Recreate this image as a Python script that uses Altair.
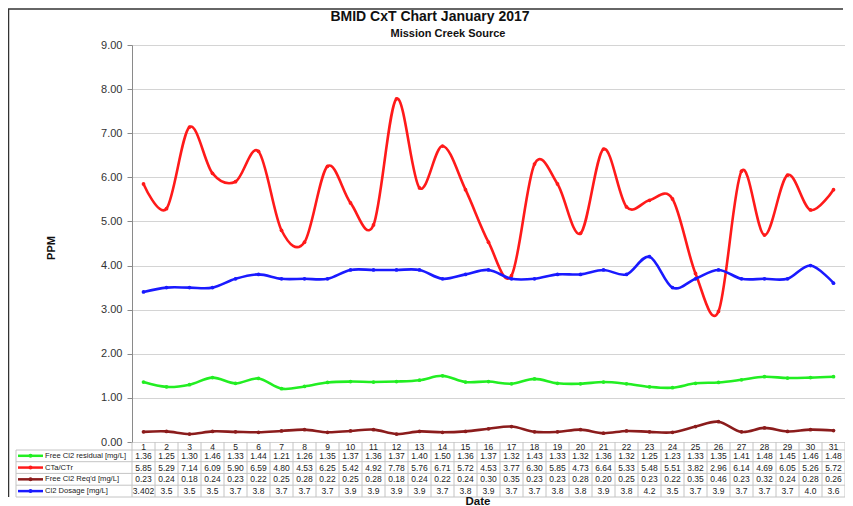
import altair as alt
import pandas as pd

days = list(range(1, 32))
series_names = ["Free Cl2 residual [mg/L]", "CTa/CTr", "Free Cl2 Req'd [mg/L]", "Cl2 Dosage [mg/L]"]
series_colors = ["#22ee22", "#ff1a1a", "#8b1c1c", "#1a1aff"]

residual = [1.36, 1.25, 1.30, 1.46, 1.33, 1.44, 1.21, 1.26, 1.35, 1.37, 1.36, 1.37, 1.40, 1.50, 1.36, 1.37,
            1.32, 1.43, 1.33, 1.32, 1.36, 1.32, 1.25, 1.23, 1.33, 1.35, 1.41, 1.48, 1.45, 1.46, 1.48]
ct_ratio = [5.85, 5.29, 7.14, 6.09, 5.90, 6.59, 4.80, 4.53, 6.25, 5.42, 4.92, 7.78, 5.76, 6.71, 5.72, 4.53,
            3.77, 6.30, 5.85, 4.73, 6.64, 5.33, 5.48, 5.51, 3.82, 2.96, 6.14, 4.69, 6.05, 5.26, 5.72]
required = [0.23, 0.24, 0.18, 0.24, 0.23, 0.22, 0.25, 0.28, 0.22, 0.25, 0.28, 0.18, 0.24, 0.22, 0.24, 0.30,
            0.35, 0.23, 0.23, 0.28, 0.20, 0.25, 0.23, 0.22, 0.35, 0.46, 0.23, 0.32, 0.24, 0.28, 0.26]
dosage = [3.402, 3.5, 3.5, 3.5, 3.7, 3.8, 3.7, 3.7, 3.7, 3.9, 3.9, 3.9, 3.9, 3.7, 3.8, 3.9,
          3.7, 3.7, 3.8, 3.8, 3.9, 3.8, 4.2, 3.5, 3.7, 3.9, 3.7, 3.7, 3.7, 4.0, 3.6]
dosage_text = ["3.402"] + [f"{v:.1f}" for v in dosage[1:]]
y_ticks = [0, 1, 2, 3, 4, 5, 6, 7, 8, 9]

values = [residual, ct_ratio, required, dosage]
texts = [[f"{v:.2f}" for v in residual], [f"{v:.2f}" for v in ct_ratio],
         [f"{v:.2f}" for v in required], dosage_text]

rows = []
for name, vals, txt in zip(series_names, values, texts):
    for d, v, t in zip(days, vals, txt):
        rows.append({"day": d, "series": name, "value": v, "text": t})
df = pd.DataFrame(rows)
df_days = pd.DataFrame({"day": days, "label": [str(d) for d in days]})
df_bounds = pd.DataFrame({"day": [d + 0.5 for d in range(0, 32)]})
df_keys = pd.DataFrame({"series": series_names})
one = pd.DataFrame({"a": [0]})

FONT = "Liberation Sans"
x_scale = alt.Scale(domain=[0.5, 31.5], nice=False, zero=False)
color_scale = alt.Scale(domain=series_names, range=series_colors)
row_scale = alt.Scale(type="point", domain=series_names, range=[410.8, 446.1], padding=0)

X = alt.X("day:Q", scale=x_scale, axis=None)
COLOR = alt.Color("series:N", scale=color_scale, legend=None)

base = alt.Chart(df)
lines = base.mark_line(interpolate="cardinal", strokeWidth=2.6).encode(
    x=X,
    y=alt.Y("value:Q", scale=alt.Scale(domain=[0, 9], nice=False, zero=True),
            axis=alt.Axis(values=y_ticks, format=".2f", title=None, grid=True, gridColor="#d4d4d4",
                          tickColor="#8a8a8a", domainColor="#8a8a8a", tickSize=5, labelFontSize=11,
                          labelColor="#333333", labelPadding=5, labelFont=FONT)),
    color=COLOR,
    order=alt.Order("day:Q"),
)
points = base.mark_point(filled=True, size=14, opacity=1).encode(
    x=X, y=alt.Y("value:Q"), color=COLOR,
)
plot = alt.layer(lines, points)

ROWY = alt.Y("series:N", scale=row_scale, axis=None)
cells = base.mark_text(fontSize=8.5, color="#222222", font=FONT).encode(x=X, y=ROWY, text="text:N")
key_rules = alt.Chart(df_keys).mark_rule(strokeWidth=2.5).encode(
    y=ROWY, x=alt.value(-114), x2=alt.value(-89), color=COLOR)
key_points = alt.Chart(df_keys).mark_point(filled=True, size=16, opacity=1).encode(
    y=ROWY, x=alt.value(-101.5), color=COLOR)
key_labels = alt.Chart(df_keys).mark_text(align="left", fontSize=7.6, color="#222222", font=FONT).encode(
    y=ROWY, x=alt.value(-87), text="series:N")
table = alt.layer(cells, key_rules, key_points, key_labels)

header = alt.Chart(df_days).mark_text(fontSize=8.5, color="#222222", font=FONT).encode(
    x=X, y=alt.value(401.5), text="label:N")
vlines = alt.Chart(df_bounds).mark_rule(color="#c4c4c4", strokeWidth=1).encode(
    x=X, y=alt.value(397), y2=alt.value(452))
hlines = [alt.Chart(one).mark_rule(color="#c4c4c4", strokeWidth=1).encode(
    x=alt.value(-116), x2=alt.value(713), y=alt.value(yv)) for yv in [405, 416.7, 428.4, 440.2, 452]]
left_line = alt.Chart(one).mark_rule(color="#c4c4c4", strokeWidth=1).encode(
    x=alt.value(-116), y=alt.value(405), y2=alt.value(452))
border_top = alt.Chart(one).mark_rule(color="#333333", strokeWidth=1.5).encode(
    x=alt.value(-124), x2=alt.value(711), y=alt.value(-36))
border_left = alt.Chart(one).mark_rule(color="#333333", strokeWidth=1.5).encode(
    x=alt.value(-123.5), y=alt.value(-36), y2=alt.value(452))

title = alt.Chart(one).mark_text(fontSize=14, fontWeight="bold", font=FONT, color="#111111").encode(
    x=alt.value(298), y=alt.value(-28), text=alt.value("BMID CxT Chart January 2017"))
subtitle = alt.Chart(one).mark_text(fontSize=11, fontWeight="bold", font=FONT, color="#111111").encode(
    x=alt.value(316), y=alt.value(-11), text=alt.value("Mission Creek Source"))
ppm = alt.Chart(one).mark_text(fontSize=11, fontWeight="bold", font=FONT, angle=270, color="#111111").encode(
    x=alt.value(-80), y=alt.value(203), text=alt.value("PPM"))
date = alt.Chart(one).mark_text(fontSize=11.5, fontWeight="bold", font=FONT, color="#111111").encode(
    x=alt.value(346), y=alt.value(456.5), text=alt.value("Date"))

chart = alt.layer(
    vlines, *hlines, left_line, header, table, plot,
    border_top, border_left, title, subtitle, ppm, date,
).resolve_scale(y="independent").properties(
    width=713, height=397,
    padding={"left": 124, "top": 37, "right": 0, "bottom": 70},
    autosize=alt.AutoSizeParams(type="none"),
).configure_view(stroke="#9a9a9a", strokeWidth=1.2).configure(font=FONT)

chart.save("out.html", embed_options={"renderer": "svg", "actions": False})
